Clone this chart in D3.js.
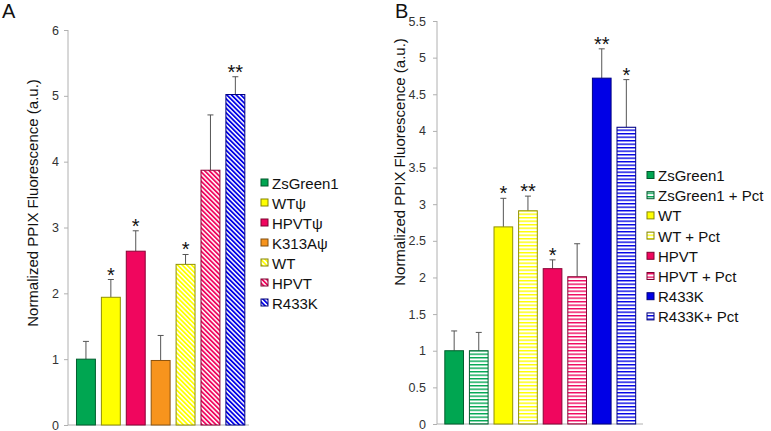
<!DOCTYPE html>
<html>
<head>
<meta charset="utf-8">
<script src="https://cdn.jsdelivr.net/npm/d3@7"></script>
<style>
  html, body { margin: 0; padding: 0; background: #fff; }
  svg { display: block; font-family: "Liberation Sans", Arial, sans-serif; }
</style>
</head>
<body>
<svg id="chart" width="771" height="431"></svg>
<script>
// ---------- Data ----------
const catsA   = ["ZsGreen1", "WTψ", "HPVTψ", "K313Aψ", "WT", "HPVT", "R433K"];
const valsA   = [1.00, 1.94, 2.64, 0.98, 2.44, 3.87, 5.02];
const errA    = [0.27, 0.27, 0.31, 0.38, 0.15, 0.84, 0.27];
const sigA    = ["", "*", "*", "", "*", "", "**"];
const colorsA = ["#00a651", "#ffff00", "#f0065e", "#f7941d", "#ffff00", "#f0065e", "#0000e6"];
const fillA   = ["solid", "solid", "solid", "solid", "diag", "diag", "diag"];
const ticksA  = [0, 1, 2, 3, 4, 5, 6];

const catsB   = ["ZsGreen1", "ZsGreen1 + Pct", "WT", "WT + Pct", "HPVT", "HPVT + Pct", "R433K", "R433K+ Pct"];
const valsB   = [1.00, 1.00, 2.69, 2.91, 2.12, 2.01, 4.72, 4.05];
const errB    = [0.27, 0.25, 0.39, 0.20, 0.12, 0.45, 0.40, 0.65];
const sigB    = ["", "", "*", "**", "*", "", "**", "*"];
const colorsB = ["#00a651", "#00a651", "#ffff00", "#ffff00", "#f0065e", "#f0065e", "#0000e6", "#0000e6"];
const fillB   = ["solid", "horiz", "solid", "horiz", "solid", "horiz", "solid", "horiz"];
const ticksB  = [0, 0.5, 1, 1.5, 2, 2.5, 3, 3.5, 4, 4.5, 5, 5.5];

const yTitle = "Normalized PPIX Fluorescence (a.u.)";

// ---------- Setup ----------
const svg = d3.select("#chart");
const defs = svg.append("defs");
let patId = 0;

function makePattern(type, color) {
  const id = "pat" + (patId++);
  if (type === "diag") {
    const p = defs.append("pattern").attr("id", id)
      .attr("patternUnits", "userSpaceOnUse")
      .attr("width", 3.3).attr("height", 6)
      .attr("patternTransform", "rotate(-45)");
    p.append("rect").attr("width", 3.3).attr("height", 6).attr("fill", "#fff");
    p.append("rect").attr("width", 1.8).attr("height", 6).attr("fill", color);
  } else {
    const p = defs.append("pattern").attr("id", id)
      .attr("patternUnits", "userSpaceOnUse")
      .attr("width", 6).attr("height", 3.5);
    p.append("rect").attr("width", 6).attr("height", 3.5).attr("fill", "#fff");
    p.append("rect").attr("y", 0).attr("width", 6).attr("height", 1.4).attr("fill", color);
  }
  return "url(#" + id + ")";
}

function fillFor(type, color) {
  return type === "solid" ? color : makePattern(type, color);
}

function drawPanel(cfg) {
  const { cats, vals, errs, sigs, colors, fills, ticks, yMax, xRange, yRange,
          axisX, titleX, titleY, legendX, legendY, legendStep, letter, letterX, baselineEnd } = cfg;

  const x = d3.scaleBand().domain(cats).range(xRange).paddingInner(0.2).paddingOuter(0.2);
  const y = d3.scaleLinear().domain([0, yMax]).range(yRange);

  const g = svg.append("g");

  // axes lines
  g.append("line").attr("x1", axisX).attr("x2", axisX)
    .attr("y1", y(yMax)).attr("y2", y(0))
    .attr("stroke", "#b0b0b0").attr("stroke-width", 1);
  g.append("line").attr("x1", axisX).attr("x2", baselineEnd)
    .attr("y1", y(0)).attr("y2", y(0))
    .attr("stroke", "#b0b0b0").attr("stroke-width", 1);

  // y axis ticks & labels via d3 axis
  const yAxis = d3.axisLeft(y).tickValues(ticks).tickSize(4).tickPadding(cfg.tickPad)
    .tickFormat(d3.format("~g"));
  const ya = g.append("g").attr("transform", `translate(${axisX},0)`).call(yAxis);
  ya.select(".domain").remove();
  ya.selectAll(".tick line").attr("stroke", "#b0b0b0");
  ya.selectAll(".tick text").attr("fill", "#333").attr("font-size", 12.5)
    .attr("font-family", "'Liberation Sans', Arial, sans-serif");

  // bars
  const data = cats.map((c, i) => ({ c, v: vals[i], e: errs[i], s: sigs[i], col: colors[i], f: fills[i] }));

  // error bars (upper only)
  const cap = 3;
  data.forEach(d => {
    const cx = x(d.c) + x.bandwidth() / 2;
    g.append("line").attr("x1", cx).attr("x2", cx)
      .attr("y1", y(d.v)).attr("y2", y(d.v + d.e))
      .attr("stroke", "#555").attr("stroke-width", 1);
    g.append("line").attr("x1", cx - cap).attr("x2", cx + cap)
      .attr("y1", y(d.v + d.e)).attr("y2", y(d.v + d.e))
      .attr("stroke", "#555").attr("stroke-width", 1);
  });

  g.selectAll("rect.bar").data(data).enter().append("rect")
    .attr("class", "bar")
    .attr("x", d => x(d.c) + 0.5)
    .attr("y", d => y(d.v))
    .attr("width", x.bandwidth() - 1)
    .attr("height", d => y(0) - y(d.v))
    .attr("fill", d => fillFor(d.f, d.col))
    .attr("stroke", d => d3.color(d.col).darker(1.6))
    .attr("stroke-width", 1);

  // significance stars
  g.selectAll("text.sig").data(data.filter(d => d.s)).enter().append("text")
    .attr("class", "sig")
    .attr("x", d => x(d.c) + x.bandwidth() / 2)
    .attr("y", d => y(d.v + d.e) + 2)
    .attr("text-anchor", "middle")
    .attr("font-size", 20)
    .attr("fill", "#111")
    .text(d => d.s);

  // y title
  g.append("text")
    .attr("transform", `translate(${titleX},${titleY}) rotate(-90)`)
    .attr("text-anchor", "middle")
    .attr("font-size", 15)
    .attr("fill", "#111")
    .text(yTitle);

  // panel letter
  g.append("text").attr("x", letterX).attr("y", 18)
    .attr("font-size", 20).attr("fill", "#111").text(letter);

  // legend
  const lg = g.append("g");
  data.forEach((d, i) => {
    const ly = legendY + i * legendStep;
    lg.append("rect").attr("x", legendX).attr("y", ly - 4).attr("width", 7).attr("height", 7)
      .attr("fill", fillFor(d.f, d.col))
      .attr("stroke", d3.color(d.col).darker(1.8)).attr("stroke-width", 1);
    lg.append("text").attr("x", legendX + 11).attr("y", ly + 5.5)
      .attr("font-size", 15).attr("fill", "#111").text(d.c);
  });
}

drawPanel({
  cats: catsA, vals: valsA, errs: errA, sigs: sigA, colors: colorsA, fills: fillA, ticks: ticksA,
  yMax: 6, xRange: [71, 250.3], yRange: [425, 30], axisX: 68, baselineEnd: 249,
  tickPad: 5, titleX: 38, titleY: 203, legendX: 261, legendY: 183, legendStep: 20,
  letter: "A", letterX: 2
});

drawPanel({
  cats: catsB, vals: valsB, errs: errB, sigs: sigB, colors: colorsB, fills: fillB, ticks: ticksB,
  yMax: 5.5, xRange: [439.4, 641.1], yRange: [424, 21], axisX: 437, baselineEnd: 643,
  tickPad: 7, titleX: 405, titleY: 162, legendX: 647, legendY: 175.5, legendStep: 20.2,
  letter: "B", letterX: 395
});
</script>
</body>
</html>
